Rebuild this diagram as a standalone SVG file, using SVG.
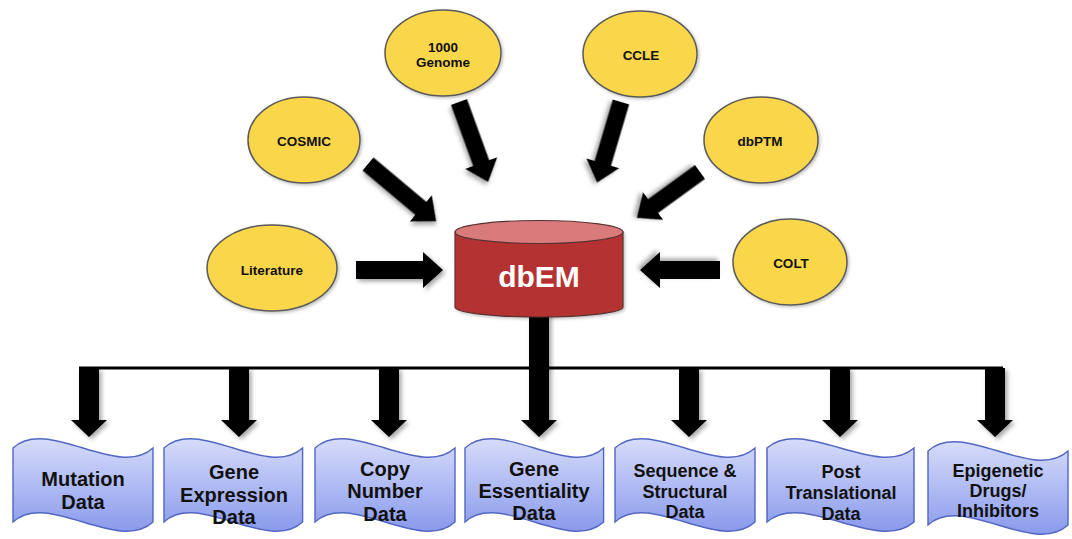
<svg xmlns="http://www.w3.org/2000/svg" width="1072" height="539" viewBox="0 0 1072 539">
<defs>
<filter id="sh" x="-20%" y="-20%" width="150%" height="150%">
<feDropShadow dx="2.5" dy="2.5" stdDeviation="2" flood-color="#000" flood-opacity="0.35"/>
</filter>
<filter id="sh2" x="-20%" y="-20%" width="150%" height="150%">
<feDropShadow dx="1.5" dy="1.5" stdDeviation="1.5" flood-color="#000" flood-opacity="0.25"/>
</filter>
<linearGradient id="tape" x1="0" y1="0" x2="0" y2="1">
<stop offset="0" stop-color="#d6dcfa"/>
<stop offset="1" stop-color="#8a9aec"/>
</linearGradient>
<path id="tp" d="M0,448 C35,416 105,480 140,448 L140,522 C105,554 35,490 0,522 Z"/>
</defs>
<style>
.src{fill:#fad64b;stroke:#5a5a5a;stroke-width:1.5;filter:url(#sh2)}
.st{font-family:"Liberation Sans",Arial,sans-serif;font-weight:bold;font-size:13.5px;fill:#111;text-anchor:middle}
.bt{font-family:"Liberation Sans",Arial,sans-serif;font-weight:bold;font-size:20px;fill:#111;text-anchor:middle}
.bs{font-size:18px}
.arr{fill:#000;filter:url(#sh)}
.tape{fill:url(#tape);stroke:#5266c2;stroke-width:1.4}
</style>
<rect width="1072" height="539" fill="#fff"/>

<g id="connectors">
<path class="arr" transform="translate(356,270)" d="M0,-9 H67 V-18 L87,0 L67,18 V9 H0 Z"/>
<path class="arr" transform="translate(720,270) rotate(180)" d="M0,-9 H60 V-18 L80,0 L60,18 V9 H0 Z"/>
<path class="arr" transform="translate(368,164) rotate(40)" d="M0,-8.5 H69 V-17 L89,0 L69,17 V8.5 H0 Z"/>
<path class="arr" transform="translate(459,102) rotate(70)" d="M0,-8.5 H65 V-17 L85,0 L65,17 V8.5 H0 Z"/>
<path class="arr" transform="translate(621,102) rotate(106.5)" d="M0,-8.5 H64 V-17 L84,0 L64,17 V8.5 H0 Z"/>
<path class="arr" transform="translate(700,172) rotate(144)" d="M0,-8.5 H58 V-17 L78,0 L58,17 V8.5 H0 Z"/>
<rect class="arr" x="529" y="305" width="20" height="64"/>
<line x1="79" y1="368" x2="1003" y2="368" stroke="#000" stroke-width="3"/>
<path class="arr" d="M79,368 V420 H71 L89,437 L107,420 H99 V368 Z"/>
<path class="arr" d="M229,368 V420 H221 L239,437 L257,420 H249 V368 Z"/>
<path class="arr" d="M379,368 V420 H371 L389,437 L407,420 H399 V368 Z"/>
<path class="arr" d="M529,368 V420 H521 L539,437 L557,420 H549 V368 Z"/>
<path class="arr" d="M679,368 V420 H671 L689,437 L707,420 H699 V368 Z"/>
<path class="arr" d="M830,368 V420 H822 L840,437 L858,420 H850 V368 Z"/>
<path class="arr" d="M985,368 V420 H977 L995,437 L1013,420 H1005 V368 Z"/>
</g>

<g id="dbEM">
<path d="M455,232 V307 A84,10 0 0 0 623,307 V232 Z" fill="#b53232" stroke="#5a3030" stroke-width="1.2" filter="url(#sh2)"/>
<ellipse cx="539" cy="232" rx="84" ry="11.5" fill="#d97b7b" stroke="#5a3030" stroke-width="1.2"/>
<text x="539" y="287" font-family="'Liberation Sans',Arial,sans-serif" font-weight="bold" font-size="30" fill="#fff" text-anchor="middle">dbEM</text>
</g>

<g id="literature"><ellipse class="src" cx="272" cy="268" rx="65" ry="43"/><text class="st" x="272" y="275">Literature</text></g>
<g id="cosmic"><ellipse class="src" cx="304" cy="140" rx="56" ry="43"/><text class="st" x="304" y="146">COSMIC</text></g>
<g id="genome1000"><ellipse class="src" cx="443" cy="53" rx="58" ry="43"/><text class="st" x="443" y="52">1000</text><text class="st" x="443" y="67">Genome</text></g>
<g id="ccle"><ellipse class="src" cx="640" cy="54" rx="57" ry="43"/><text class="st" x="641" y="60">CCLE</text></g>
<g id="dbptm"><ellipse class="src" cx="761" cy="140" rx="57" ry="43"/><text class="st" x="760" y="146">dbPTM</text></g>
<g id="colt"><ellipse class="src" cx="790" cy="262" rx="57" ry="43"/><text class="st" x="791" y="268">COLT</text></g>

<g id="mutation"><use href="#tp" class="tape" transform="translate(13,0)"/><text class="bt" x="83" y="486">Mutation</text><text class="bt" x="83" y="509">Data</text></g>
<g id="geneexpression"><use href="#tp" class="tape" transform="translate(164,0) scale(0.99,1)"/><text class="bt" x="234" y="479">Gene</text><text class="bt" x="234" y="502">Expression</text><text class="bt" x="234" y="524">Data</text></g>
<g id="copynumber"><use href="#tp" class="tape" transform="translate(315,0)"/><text class="bt" x="385" y="476">Copy</text><text class="bt" x="385" y="498">Number</text><text class="bt" x="385" y="521">Data</text></g>
<g id="geneessentiality"><use href="#tp" class="tape" transform="translate(465,0) scale(0.99,1)"/><text class="bt" x="534" y="476">Gene</text><text class="bt" x="534" y="498">Essentiality</text><text class="bt" x="534" y="520">Data</text></g>
<g id="sequence"><use href="#tp" class="tape" transform="translate(615,0)"/><text class="bt bs" x="685" y="477">Sequence &amp;</text><text class="bt bs" x="685" y="498">Structural</text><text class="bt bs" x="685" y="518">Data</text></g>
<g id="posttranslational"><use href="#tp" class="tape" transform="translate(767,0) scale(1.05,1)"/><text class="bt bs" x="841" y="478">Post</text><text class="bt bs" x="841" y="499">Translational</text><text class="bt bs" x="841" y="520">Data</text></g>
<g id="epigenetic"><use href="#tp" class="tape" transform="translate(928,3)"/><text class="bt bs" x="998" y="477">Epigenetic</text><text class="bt bs" x="998" y="497">Drugs/</text><text class="bt bs" x="998" y="517">Inhibitors</text></g>
</svg>
